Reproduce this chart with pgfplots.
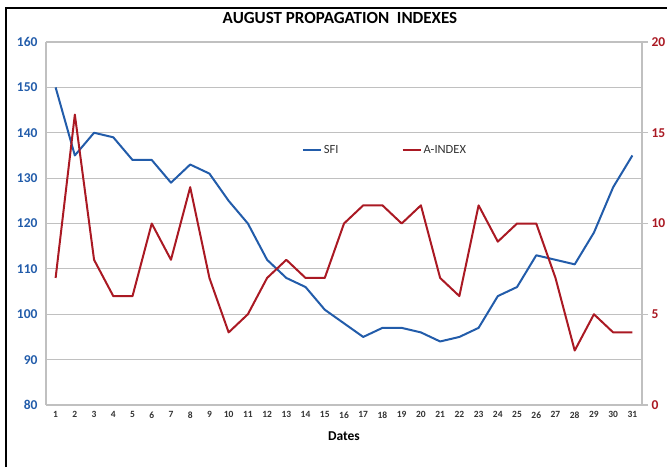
\documentclass[border=0pt]{standalone}
\usepackage{pgfplots}
\pgfplotsset{compat=1.18}
\usepackage{fontspec}
\setmainfont{Carlito}
\definecolor{sfiblue}{RGB}{34,92,170}
\definecolor{ared}{RGB}{170,25,35}
\definecolor{gridgray}{RGB}{192,192,192}
\definecolor{ticktxt}{RGB}{50,50,50}
\begin{document}
\begin{tikzpicture}[x=1pt,y=1pt]
\useasboundingbox (0,0) rectangle (667,467);
\draw[line width=2pt] (6,0) -- (6,459) -- (667,459);
\node[font=\fontsize{17}{19}\selectfont\bfseries] at (340,449) {AUGUST PROPAGATION\ \ INDEXES};
\begin{axis}[
  at={(46pt,62pt)}, anchor=south west, scale only axis,
  width=596pt, height=363pt,
  xmin=0.5, xmax=31.5, ymin=80, ymax=160,
  xtick={1,...,31}, ytick={80,90,...,160},
  ymajorgrids, grid style={gridgray, line width=1.2pt},
  axis x line*=bottom, axis y line*=left,
  axis line style={gridgray, line width=1.2pt},
  major tick length=0pt,
  /pgf/number format/assume math mode=true,
  yticklabel style={font=\fontsize{13.5}{15}\selectfont\bfseries, text=sfiblue, xshift=-5pt},
  xticklabel style={font=\fontsize{9.5}{11}\selectfont\bfseries, text=ticktxt, yshift=-3pt},
  xlabel={Dates}, xlabel style={font=\fontsize{13.5}{15}\selectfont\bfseries, yshift=-7pt},
  clip=false,
]
\addplot[sfiblue, line width=2pt, line join=round] coordinates {
(1,150) (2,135) (3,140) (4,139) (5,134) (6,134) (7,129) (8,133) (9,131) (10,125)
(11,120) (12,112) (13,108) (14,106) (15,101) (16,98) (17,95) (18,97) (19,97) (20,96)
(21,94) (22,95) (23,97) (24,104) (25,106) (26,113) (27,112) (28,111) (29,118) (30,128) (31,135)
};
\end{axis}
\begin{axis}[
  at={(46pt,62pt)}, anchor=south west, scale only axis,
  width=596pt, height=363pt,
  xmin=0.5, xmax=31.5, ymin=0, ymax=20,
  ytick={0,5,...,20},
  axis x line=none, axis y line*=right,
  axis line style={gridgray, line width=1.2pt},
  ytick style={gridgray, line width=1.2pt},
  tick align=outside, major tick length=6pt,
  /pgf/number format/assume math mode=true,
  yticklabel style={font=\fontsize{13.5}{15}\selectfont\bfseries, text=ared},
  legend style={draw=none, fill=none, at={(0.424,0.702)}, anchor=west,
    font=\fontsize{12.5}{14}\selectfont, text=ticktxt, legend columns=2,
    /tikz/every even column/.append style={column sep=61pt}},
  legend cell align=left,
  legend image code/.code={\draw[#1] (0pt,0pt) -- (18pt,0pt);},
]
\addlegendimage{sfiblue, line width=2pt}
\addlegendentry{SFI}
\addplot[ared, line width=2pt, line join=round] coordinates {
(1,7) (2,16) (3,8) (4,6) (5,6) (6,10) (7,8) (8,12) (9,7) (10,4)
(11,5) (12,7) (13,8) (14,7) (15,7) (16,10) (17,11) (18,11) (19,10) (20,11)
(21,7) (22,6) (23,11) (24,9) (25,10) (26,10) (27,7) (28,3) (29,5) (30,4) (31,4)
};
\addlegendentry{A-INDEX}
\end{axis}
\end{tikzpicture}
\end{document}
